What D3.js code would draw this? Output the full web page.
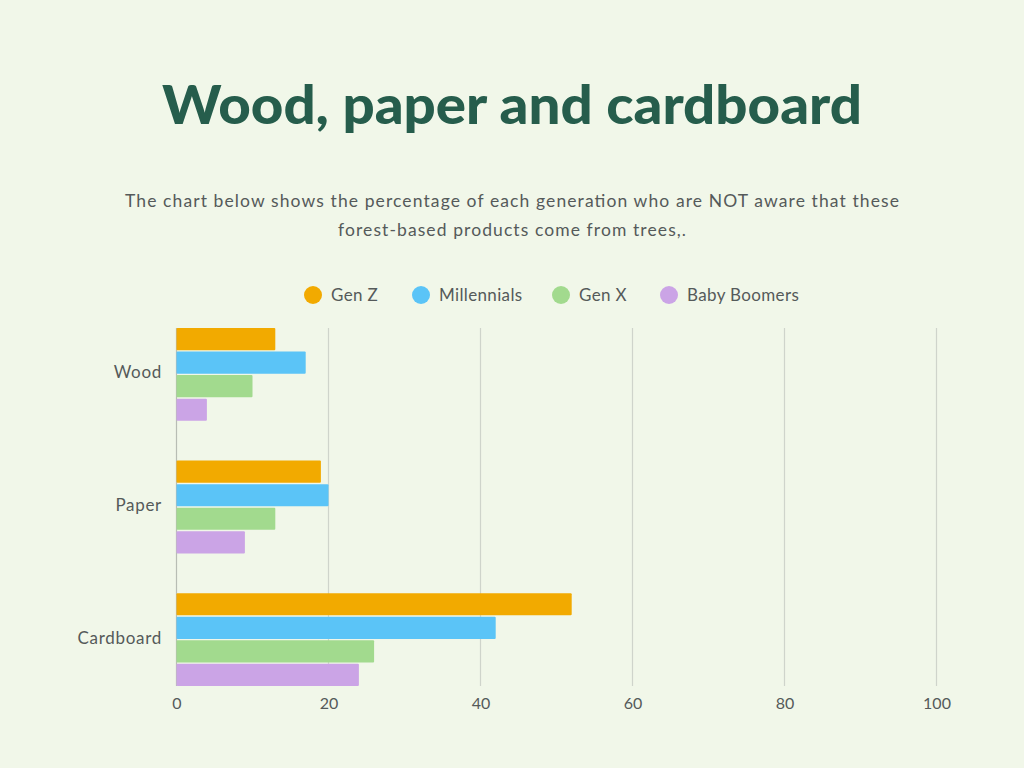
<!DOCTYPE html>
<html>
<head>
<meta charset="utf-8">
<script src="https://cdn.jsdelivr.net/npm/d3@7"></script>
<style>
html,body{margin:0;padding:0;background:#f1f7e9;}
svg{display:block;}
</style>
</head>
<body>
<svg id="chart" width="1024" height="768"></svg>
<script>
const categories = ["Wood", "Paper", "Cardboard"];
const seriesNames = ["Gen Z", "Millennials", "Gen X", "Baby Boomers"];
const genZ = [13, 19, 52];
const millennials = [17, 20, 42];
const genX = [10, 13, 26];
const babyBoomers = [4, 9, 24];
const xTicks = [0, 20, 40, 60, 80, 100];
const colors = ["#f2aa00", "#5bc4f7", "#a2da8e", "#cba4e6"];

const seriesValues = [genZ, millennials, genX, babyBoomers];
const svg = d3.select("#chart");
const font = "Lato, 'Open Sans', sans-serif";

svg.append("rect").attr("width",1024).attr("height",768).attr("fill","#f1f7e9");

svg.append("text").attr("x",512).attr("y",124).attr("text-anchor","middle")
  .attr("font-family",font).attr("font-weight",900).attr("font-size",53)
  .attr("fill","#265d4c").attr("textLength",700).attr("lengthAdjust","spacingAndGlyphs")
  .text("Wood, paper and cardboard");

const sub = ["The chart below shows the percentage of each generation who are NOT aware that these",
  "forest-based products come from trees,."];
const subLen = [774, 348];
sub.forEach((s,i)=>{
  svg.append("text").attr("x",512).attr("y",207+i*29).attr("text-anchor","middle")
    .attr("font-family",font).attr("font-size",17.5).attr("fill","#555a5a")
    .attr("textLength",subLen[i]).attr("lengthAdjust","spacing").text(s);
});

// legend
const legendX = [313, 421, 561, 669];
seriesNames.forEach((n,i)=>{
  const g = svg.append("g").attr("transform",`translate(${legendX[i]},295)`);
  g.append("circle").attr("r",9).attr("fill",colors[i]);
  g.append("text").attr("x",18).attr("y",5.5).attr("font-family",font).attr("font-size",17)
    .attr("letter-spacing",0.35).attr("fill","#555a5a").text(n);
});

const x = d3.scaleLinear().domain([0,100]).range([176.5, 936.5]);
const y0 = d3.scaleBand().domain(categories).range([328, 686]).paddingInner(0.3).paddingOuter(0);
const y1 = d3.scaleBand().domain(seriesNames).range([0, y0.bandwidth()]).paddingInner(0.06);

// gridlines
svg.append("g").selectAll("line").data(xTicks).join("line")
  .attr("x1",d=>x(d)).attr("x2",d=>x(d)).attr("y1",328).attr("y2",686)
  .attr("stroke",d=>d===0?"#b8bdb4":"#cfd4cb").attr("stroke-width",1.2);

// bars
const groups = svg.append("g").selectAll("g").data(categories).join("g")
  .attr("transform",d=>`translate(0,${y0(d)})`);
groups.selectAll("rect").data((c,ci)=>seriesNames.map((s,si)=>({s,si,v:seriesValues[si][ci]})))
  .join("rect")
  .attr("x",x(0)).attr("y",d=>y1(d.s)).attr("height",y1.bandwidth())
  .attr("width",d=>x(d.v)-x(0)).attr("fill",d=>colors[d.si]).attr("rx",1);

// y labels
svg.append("g").selectAll("text").data(categories).join("text")
  .attr("x",162).attr("y",d=>y0(d)+y0.bandwidth()/2+4).attr("text-anchor","end")
  .attr("font-family",font).attr("font-size",17).attr("letter-spacing",0.7)
  .attr("fill","#555a5a").text(d=>d);

// x axis labels
const xAxis = d3.axisBottom(x).tickValues(xTicks).tickSize(0).tickPadding(0);
const ax = svg.append("g").attr("transform","translate(0,709)").call(xAxis);
ax.select(".domain").remove();
ax.selectAll("text").attr("font-family",font).attr("font-size",16).attr("fill","#555a5a").attr("dy",0);
</script>
</body>
</html>
